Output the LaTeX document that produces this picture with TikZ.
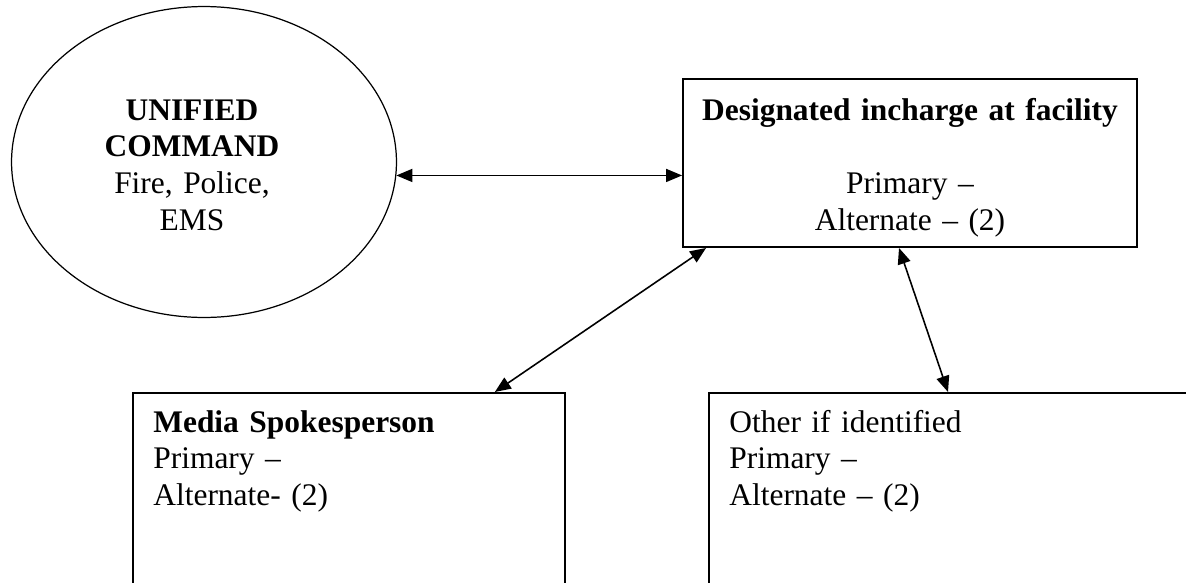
\documentclass[tikz,border=0pt]{standalone}
\usepackage{fontspec}
\setmainfont{Liberation Serif}
\usetikzlibrary{calc}
\usetikzlibrary{arrows.meta}
\usetikzlibrary{shapes.geometric}

\tikzset{
  boxnode/.style={draw, line width=1.1pt, rectangle, inner sep=0pt},
  txt/.style={font=\fontsize{17.9}{21}\selectfont, inner sep=0pt},
  link/.style={{Triangle[length=0.32cm,width=0.26cm]}-{Triangle[length=0.32cm,width=0.26cm]}, line width=0.9pt},
}

\begin{document}
\begin{tikzpicture}[x=0.02cm,y=-0.02cm]
\useasboundingbox (0,0) rectangle (1186,582);
\clip (0,0) rectangle (1186,582);

\node[ellipse, draw, line width=0.7pt, minimum width=7.7cm, minimum height=6.22cm, inner sep=0pt] (ucmd) at (204,162) {};
\node[boxnode, minimum width=9.08cm, minimum height=3.36cm] (incharge) at (910,163) {};
\node[boxnode, minimum width=8.64cm, minimum height=5cm, anchor=north west] (media) at (132,392) {};
\node[boxnode, minimum width=11cm, minimum height=5cm, anchor=north west] (other) at (708,392) {};

\node[txt, anchor=base, text width=6cm, align=center] (ucmdtxt) at (192,120)
  {\textbf{UNIFIED}\\\textbf{COMMAND}\\Fire, Police,\\EMS};
\node[txt, anchor=base, text width=8.8cm, align=center] (inchargetxt) at (910,120)
  {\textbf{Designated incharge at facility}\\[21pt]Primary --\\Alternate -- (2)};
\node[txt, anchor=base west, text width=7cm, align=left] (mediatxt) at (153,432)
  {\textbf{Media Spokesperson}\\Primary --\\Alternate- (2)};
\node[txt, anchor=base west, text width=7cm, align=left] (othertxt) at (729,432)
  {Other if identified\\Primary --\\Alternate -- (2)};

\draw[link] (ucmd.-4) -- (incharge.west |- ucmd.-4);
\draw[link] ($(incharge.south west)+(24,0)$) -- ($(media.north east)+(-71,0)$);
\draw[link] ($(incharge.south)+(-11,0)$) -- ($(other.north west)+(240,0)$);
\end{tikzpicture}
\end{document}
